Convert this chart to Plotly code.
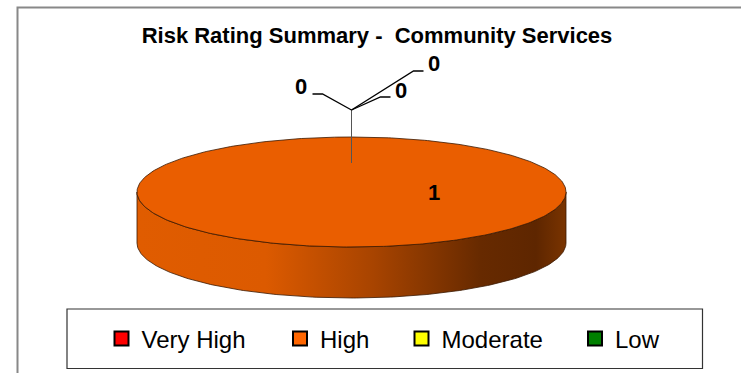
import numpy as np
import plotly.graph_objects as go

# ---------------- data ----------------
title_text = "Risk Rating Summary -  Community Services"
categories = ["Very High", "High", "Moderate", "Low"]
values = [0, 1, 0, 0]
legend_colors = ["#FF0000", "#FF6600", "#FFFF00", "#008000"]

# ---------------- style / geometry ----------------
W, H = 741, 373
FONT = "Arial, 'Liberation Sans', sans-serif"
cx, cy, rx, ry, depth = 351.5, 192.0, 214.5, 55.0, 51.0
top_colors = ["#FF0000", "#EA5E00", "#FFFF00", "#008000"]
side_scales = [
    [[0, "#CC0000"], [1, "#550000"]],
    [[0, "#E05C00"], [0.3, "#DC5A00"], [0.55, "#A84400"], [0.8, "#672A00"],
     [0.93, "#5E2600"], [1, "#7A3400"]],
    [[0, "#EEEE00"], [1, "#666600"]],
    [[0, "#007000"], [1, "#003000"]],
]


def pt(theta_deg, dy=0.0):
    t = np.radians(theta_deg)
    return cx + rx * np.sin(t), cy - ry * np.cos(t) + dy


fig = go.Figure()

total = float(sum(values))
start = 0.0
slices = []
for v in values:
    span = 360.0 * v / total if total else 0
    slices.append((start, start + span))
    start += span

# side faces (front half: theta in [90, 270])
for (a, b), cs in zip(slices, side_scales):
    lo, hi = max(a, 90.0), min(b, 270.0)
    if hi <= lo:
        continue
    th = np.linspace(lo, hi, 200)
    xs_top, ys_top = pt(th)
    xs_bot, ys_bot = pt(th[::-1], depth)
    xs = np.concatenate([xs_top, xs_bot, xs_top[:1]])
    ys = np.concatenate([ys_top, ys_bot, ys_top[:1]])
    fig.add_trace(go.Scatter(
        x=xs, y=ys, mode="lines", fill="toself",
        fillgradient=dict(type="horizontal", colorscale=cs),
        line=dict(color="#3A1800", width=0.8),
        showlegend=False, hoverinfo="skip"))

# top faces
for (a, b), col in zip(slices, top_colors):
    if b - a <= 0:
        continue
    th = np.linspace(a, b, 400)
    xs, ys = pt(th)
    if b - a < 360:
        xs = np.concatenate([[cx], xs, [cx]])
        ys = np.concatenate([[cy], ys, [cy]])
    fig.add_trace(go.Scatter(
        x=xs, y=ys, mode="lines", fill="toself", fillcolor=col,
        line=dict(color="#3A1800", width=0.8),
        showlegend=False, hoverinfo="skip"))

# leader lines and data labels
ax, ay = pt(0.0)          # top point of the pie where zero slices sit
hub_y = ay - 27
fig.add_trace(go.Scatter(x=[ax, ax], y=[hub_y, ay + 26], mode="lines",
                         line=dict(color="#555555", width=1),
                         showlegend=False, hoverinfo="skip"))
leader_offsets = {0: [(-29, -16), (-39, -16)],
                  2: [(29, -13), (39, -13)],
                  3: [(62, -39), (72, -39)]}
label_offsets = {0: (-51, -23.5), 2: (49, -19.5), 3: (82, -46.5)}
for i, v in enumerate(values):
    if v == 0:
        pts = leader_offsets[i]
        fig.add_trace(go.Scatter(
            x=[ax] + [ax + p[0] for p in pts],
            y=[hub_y] + [hub_y + p[1] for p in pts],
            mode="lines", line=dict(color="black", width=1.3),
            showlegend=False, hoverinfo="skip"))
        lx, ly = label_offsets[i]
        pos = (ax + lx, hub_y + ly)
    else:
        pos = (cx + 82, cy)
    fig.add_annotation(x=pos[0], y=pos[1], text=f"<b>{v}</b>", showarrow=False,
                       xanchor="center", yanchor="middle",
                       font=dict(family=FONT, size=22, color="black"))

# legend traces (each in its own legend for Excel-like spacing)
legend_x = [101.5, 280, 401.5, 575]
layout_legends = {}
for i, (name, col) in enumerate(zip(categories, legend_colors)):
    lg = "legend" if i == 0 else f"legend{i + 1}"
    fig.add_trace(go.Scatter(
        x=[None], y=[None], mode="markers", name=name, legend=lg,
        marker=dict(symbol="square", size=14, color=col,
                    line=dict(color="black", width=2))))
    layout_legends[lg] = dict(
        x=legend_x[i] / W, y=1 - 339 / H, xanchor="left", yanchor="middle",
        bgcolor="rgba(0,0,0,0)", borderwidth=0,
        font=dict(family=FONT, size=24, color="black"))

fig.update_layout(
    width=W, height=H,
    margin=dict(l=0, r=0, t=0, b=0),
    paper_bgcolor="white", plot_bgcolor="white",
    title=dict(text=f"<b>{title_text}</b>", x=377 / W, xanchor="center",
               y=1 - 35 / H, yanchor="middle",
               font=dict(family=FONT, size=22, color="black")),
    xaxis=dict(range=[0, W], visible=False, fixedrange=True),
    yaxis=dict(range=[H, 0], visible=False, fixedrange=True),
    showlegend=True,
    **layout_legends,
    shapes=[
        dict(type="rect", xref="x", yref="y", x0=17.5, y0=7.5, x1=W + 20, y1=H + 20,
             line=dict(color="#888888", width=2), layer="below"),
        dict(type="rect", xref="x", yref="y", x0=67, y0=309, x1=702.5, y1=368.5,
             line=dict(color="#333333", width=1.2), layer="below"),
    ],
)

fig.write_html("out.html")
